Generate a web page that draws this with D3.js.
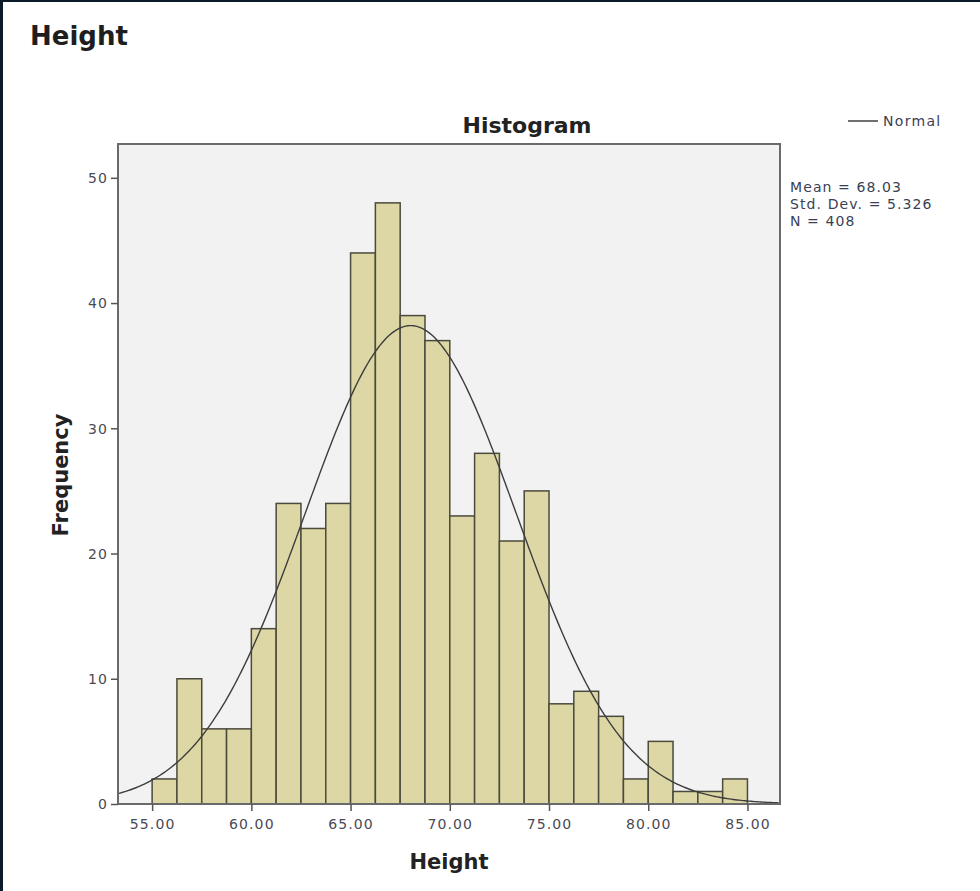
<!DOCTYPE html>
<html>
<head>
<meta charset="utf-8">
<script src="https://cdn.jsdelivr.net/npm/d3@7"></script>
<style>
  body { margin: 0; background: #ffffff; }
  svg { display: block; }
</style>
</head>
<body>
<div id="chart"></div>
<script>

// histogram data
var binLow = [55.00, 56.25, 57.50, 58.75, 60.00, 61.25, 62.50, 63.75, 65.00, 66.25, 67.50, 68.75,
              70.00, 71.25, 72.50, 73.75, 75.00, 76.25, 77.50, 78.75, 80.00, 81.25, 82.50, 83.75];
var binWidth = 1.25;
var counts = [2, 10, 6, 6, 14, 24, 22, 24, 44, 48, 39, 37,
              23, 28, 21, 25, 8, 9, 7, 2, 5, 1, 1, 2];

var xTicks = [55, 60, 65, 70, 75, 80, 85];
var yTicks = [0, 10, 20, 30, 40, 50];

// fitted normal, values as printed next to the chart
var statLabels = ["Mean = 68.03", "Std. Dev. = 5.326", "N = 408"];
var mean = 68.03, stdDev = 5.326, nTotal = 408;

var width = 980, height = 891;

var svg = d3.select("#chart")
    .append("svg")
    .attr("width", width)
    .attr("height", height);

// dark frame on the top and left of the screenshot
svg.append("rect").attr("x", 0).attr("y", 0).attr("width", width).attr("height", 2).style("fill", "#0b1b29");
svg.append("rect").attr("x", 0).attr("y", 0).attr("width", 3).attr("height", height).style("fill", "#0b1b29");

// scales
var x = d3.scaleLinear().domain([53.28, 86.64]).range([118, 780]);
var y = d3.scaleLinear().domain([0, 52.7]).range([804, 144]);

// plot background
svg.append("rect")
    .attr("x", x.range()[0])
    .attr("y", y.range()[1])
    .attr("width", x.range()[1] - x.range()[0])
    .attr("height", y.range()[0] - y.range()[1])
    .style("fill", "#f2f2f2");

// bars
svg.append("g")
  .selectAll("rect")
  .data(counts)
  .join("rect")
    .attr("x", function(d, i) { return x(binLow[i]); })
    .attr("y", function(d) { return y(d); })
    .attr("width", function(d, i) { return x(binLow[i] + binWidth) - x(binLow[i]); })
    .attr("height", function(d) { return y(0) - y(d); })
    .style("fill", "#dcd7a5")
    .style("stroke", "#4b4a3c")
    .style("stroke-width", 1.5);

// normal curve
var curvePts = d3.range(x.domain()[0], x.domain()[1] + 0.01, 0.1).map(function(v) {
  var z = (v - mean) / stdDev;
  return [v, nTotal * binWidth * Math.exp(-0.5 * z * z) / (stdDev * Math.sqrt(2 * Math.PI))];
});

svg.append("path")
    .datum(curvePts)
    .attr("d", d3.line().x(function(d) { return x(d[0]); }).y(function(d) { return y(d[1]); }))
    .style("fill", "none")
    .style("stroke", "#3d3d3d")
    .style("stroke-width", 1.4);

// plot frame
svg.append("rect")
    .attr("x", x.range()[0])
    .attr("y", y.range()[1])
    .attr("width", x.range()[1] - x.range()[0])
    .attr("height", y.range()[0] - y.range()[1])
    .style("fill", "none")
    .style("stroke", "#6a6a6a")
    .style("stroke-width", 2);

// x axis
var xAxis = svg.append("g")
    .attr("transform", "translate(0," + y(0) + ")")
    .call(d3.axisBottom(x).tickValues(xTicks).tickFormat(d3.format(".2f")).tickSize(7).tickPadding(8));

// y axis
var yAxis = svg.append("g")
    .attr("transform", "translate(" + x.range()[0] + ",0)")
    .call(d3.axisLeft(y).tickValues(yTicks).tickSize(7).tickPadding(3));

[xAxis, yAxis].forEach(function(ax) {
  ax.select(".domain").remove();
  ax.selectAll(".tick line").style("stroke", "#555").style("stroke-width", 1.5);
  ax.selectAll(".tick text")
    .style("fill", "#4a4a55")
    .style("font-family", "DejaVu Sans")
    .style("font-size", "14px")
    .style("letter-spacing", "1.1px");
});
yAxis.selectAll(".tick text").attr("dy", "0.35em");

// page title
svg.append("text")
    .attr("x", 30)
    .attr("y", 45)
    .style("font-family", "DejaVu Sans")
    .style("font-weight", "bold")
    .style("font-size", "26px")
    .style("fill", "#1e1e1e")
    .text("Height");

// chart title
svg.append("text")
    .attr("x", 527)
    .attr("y", 133)
    .attr("text-anchor", "middle")
    .style("font-family", "DejaVu Sans")
    .style("font-weight", "bold")
    .style("font-size", "22px")
    .style("fill", "#222")
    .text("Histogram");

// axis titles
svg.append("text")
    .attr("x", 449)
    .attr("y", 869)
    .attr("text-anchor", "middle")
    .style("font-family", "DejaVu Sans")
    .style("font-weight", "bold")
    .style("font-size", "21px")
    .style("fill", "#222")
    .text("Height");

svg.append("text")
    .attr("transform", "translate(68,475) rotate(-90)")
    .attr("text-anchor", "middle")
    .style("font-family", "DejaVu Sans")
    .style("font-weight", "bold")
    .style("font-size", "21px")
    .style("fill", "#222")
    .text("Frequency");

// legend
svg.append("line")
    .attr("x1", 848).attr("x2", 878)
    .attr("y1", 121).attr("y2", 121)
    .style("stroke", "#333")
    .style("stroke-width", 1.4);

svg.append("text")
    .attr("x", 883)
    .attr("y", 126)
    .style("font-family", "DejaVu Sans")
    .style("font-size", "14px")
    .style("letter-spacing", "1.3px")
    .style("fill", "#3a3f55")
    .text("Normal");

// stats box
svg.append("g")
  .selectAll("text")
  .data(statLabels)
  .join("text")
    .attr("x", 790)
    .attr("y", function(d, i) { return 192 + i * 17; })
    .style("font-family", "DejaVu Sans")
    .style("font-size", "14px")
    .style("letter-spacing", "1.1px")
    .style("fill", "#3a3f55")
    .text(function(d) { return d; });

</script>
</body>
</html>
